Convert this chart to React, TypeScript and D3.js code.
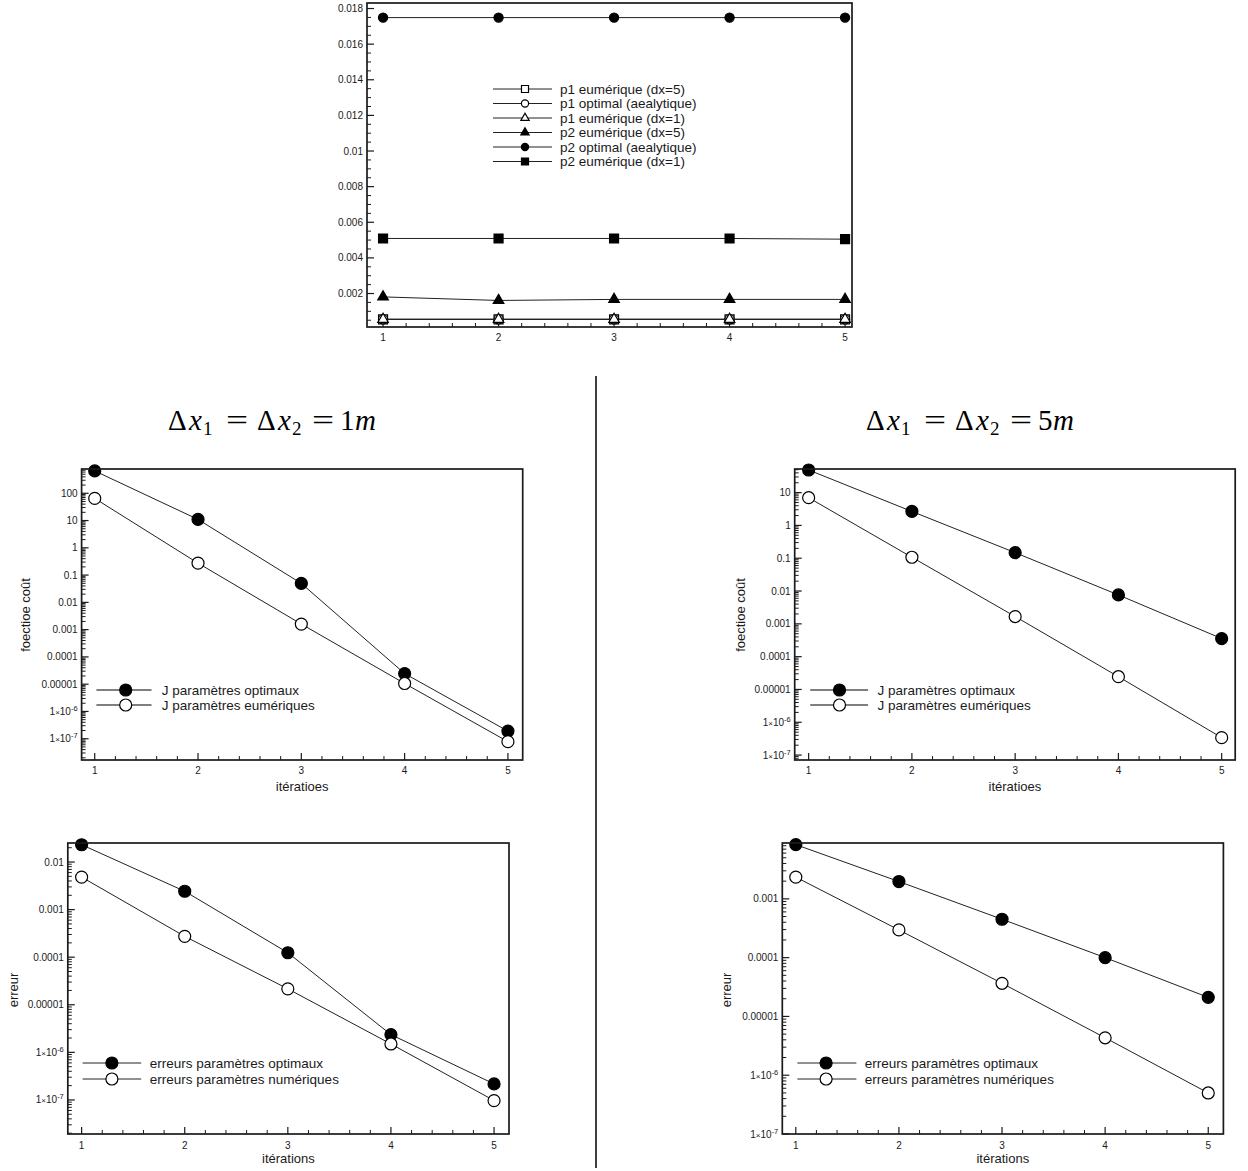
import React from 'react';
import * as d3 from 'd3';

// ---------------- DATA ----------------
const iterations = [1, 2, 3, 4, 5];

// top chart (parameters p1 / p2)
const p1NumDx5 = [0.00055, 0.00055, 0.00055, 0.00055, 0.00055];
const p1Optimal = [0.00055, 0.00055, 0.00055, 0.00055, 0.00055];
const p1NumDx1 = [0.00055, 0.00055, 0.00055, 0.00055, 0.00055];
const p2NumDx5 = [0.00181, 0.00161, 0.00167, 0.00167, 0.00167];
const p2Optimal = [0.01749, 0.01749, 0.01749, 0.01749, 0.01749];
const p2NumDx1 = [0.00509, 0.00509, 0.00509, 0.00509, 0.00505];
const topLegendLabels = [
  'p1 eumérique (dx=5)',
  'p1 optimal (aealytique)',
  'p1 eumérique (dx=1)',
  'p2 eumérique (dx=5)',
  'p2 optimal (aealytique)',
  'p2 eumérique (dx=1)',
];
const topYTicks = [0.002, 0.004, 0.006, 0.008, 0.01, 0.012, 0.014, 0.016, 0.018];
const topYTickLabels = ['0.002', '0.004', '0.006', '0.008', '0.01', '0.012', '0.014', '0.016', '0.018'];

// cost function, dx = 1m
const costDx1Optimal = [660, 11, 0.0495, 2.45e-5, 1.9e-7];
const costDx1Numeric = [65, 0.274, 0.0016, 1.06e-5, 7.8e-8];
// cost function, dx = 5m
const costDx5Optimal = [49, 2.67, 0.148, 0.0076, 3.56e-4];
const costDx5Numeric = [7.0, 0.107, 0.00167, 2.45e-5, 3.4e-7];
// errors, dx = 1m
const errDx1Optimal = [0.0231, 0.00243, 1.24e-4, 2.36e-6, 2.17e-7];
const errDx1Numeric = [0.00483, 2.74e-4, 2.16e-5, 1.5e-6, 9.7e-8];
// errors, dx = 5m
const errDx5Optimal = [0.00836, 0.00197, 4.5e-4, 1.0e-4, 2.11e-5];
const errDx5Numeric = [0.00234, 2.96e-4, 3.66e-5, 4.33e-6, 4.99e-7];

const costLegendLabels = ['J paramètres optimaux', 'J paramètres eumériques'];
const errLegendLabels = ['erreurs paramètres optimaux', 'erreurs paramètres numériques'];
const costYLabel = 'foectioe coût';
const costXLabel = 'itératioes';
const errYLabel = 'erreur';
const errXLabel = 'itérations';

const costTicksDx1 = [1e-7, 1e-6, 1e-5, 1e-4, 1e-3, 1e-2, 0.1, 1, 10, 100];
const costTicksDx5 = [1e-7, 1e-6, 1e-5, 1e-4, 1e-3, 1e-2, 0.1, 1, 10];
const errTicksDx1 = [1e-7, 1e-6, 1e-5, 1e-4, 1e-3, 1e-2];
const errTicksDx5 = [1e-7, 1e-6, 1e-5, 1e-4, 1e-3];

const titleValues = ['1', '5'];

// ---------------- HELPERS ----------------
const FONT = "'Liberation Sans', Arial, Helvetica, sans-serif";
const INK = '#1a1a1a';

type Marker = 'circle' | 'square' | 'triangle';
interface Series { values: number[]; marker: Marker; filled: boolean; label: string; }
interface PanelCfg {
  left: number; right: number; top: number; bottom: number;
  xDomain: [number, number];
  yDomain: [number, number];
  log: boolean;
  yTicks: number[];
  yTickLabels?: string[];
  yMinorStep?: number;
  series: Series[];
  markerSize: number;
  legend: { x0: number; x1: number; xm: number; xt: number; y0: number; dy: number; size: number; stroke: string; width: number; fontSize: number };
  xLabel?: { text: string; y: number };
  yLabel?: { text: string; x: number; y: number };
  xTickLabelY: number;
}

function logLabel(v: number, x: number, y: number, key: string) {
  const e = Math.round(Math.log10(v));
  if (e >= -5) {
    const s = e >= 0 ? String(Math.round(v)) : '0.' + '0'.repeat(-e - 1) + '1';
    return (
      <text key={key} x={x} y={y} dy="0.35em" textAnchor="end" fontSize={10} fontFamily={FONT} fill={INK}>{s}</text>
    );
  }
  return (
    <text key={key} x={x} y={y} dy="0.35em" textAnchor="end" fontSize={10} fontFamily={FONT} fill={INK}>
      1<tspan fontSize={8}>×</tspan>10<tspan fontSize={7.5} dy={-4}>{String(e)}</tspan>
    </text>
  );
}

function MarkerShape({ type, filled, cx, cy, r }: { type: Marker; filled: boolean; cx: number; cy: number; r: number }) {
  const fill = filled ? '#000' : '#fff';
  if (type === 'circle') {
    return <circle cx={cx} cy={cy} r={r} fill={fill} stroke="#000" strokeWidth={1.2} />;
  }
  const sym = type === 'square' ? d3.symbolSquare : d3.symbolTriangle;
  const area = type === 'square' ? (2 * r) * (2 * r) * 0.95 : Math.sqrt(3) / 4 * Math.pow(2.3 * r, 2);
  const path = d3.symbol().type(sym).size(area)() as string;
  return <path d={path} transform={`translate(${cx},${cy})`} fill={fill} stroke="#000" strokeWidth={1.2} />;
}

function Panel({ cfg }: { cfg: PanelCfg }) {
  const { left, right, top, bottom } = cfg;
  const x = d3.scaleLinear().domain(cfg.xDomain).range([left, right]);
  const y = cfg.log
    ? d3.scaleLog().domain(cfg.yDomain).range([bottom, top])
    : d3.scaleLinear().domain(cfg.yDomain).range([bottom, top]);

  const yMinor: number[] = [];
  if (cfg.log) {
    const e0 = Math.floor(Math.log10(cfg.yDomain[0]));
    const e1 = Math.ceil(Math.log10(cfg.yDomain[1]));
    for (let e = e0; e <= e1; e++) {
      for (let k = 2; k <= 9; k++) {
        const v = k * Math.pow(10, e);
        if (v > cfg.yDomain[0] && v < cfg.yDomain[1]) yMinor.push(v);
      }
    }
  } else if (cfg.yMinorStep) {
    const st = cfg.yMinorStep;
    for (let v = Math.ceil(cfg.yDomain[0] / st) * st; v < cfg.yDomain[1]; v += st) {
      const isMajor = cfg.yTicks.some((t) => Math.abs(t - v) < st / 10);
      if (!isMajor) yMinor.push(v);
    }
  }
  const xMinor: number[] = [];
  for (let i = 0; i < 40; i++) {
    const v = Math.ceil(cfg.xDomain[0] * 5) / 5 + i * 0.2;
    if (v >= cfg.xDomain[1]) break;
    if (Math.abs(v - Math.round(v)) > 0.01) xMinor.push(v);
  }

  const line = d3.line<number>()
    .x((_, i) => x(iterations[i]))
    .y((d) => y(d));

  const lg = cfg.legend;

  return (
    <g>
      {cfg.yTicks.map((t, i) => (
        <line key={'yt' + i} x1={left} x2={left + 7} y1={y(t)} y2={y(t)} stroke={INK} strokeWidth={1.2} />
      ))}
      {yMinor.map((t, i) => (
        <line key={'ym' + i} x1={left} x2={left + 4} y1={y(t)} y2={y(t)} stroke={INK} strokeWidth={1} />
      ))}
      {iterations.map((t, i) => (
        <line key={'xt' + i} x1={x(t)} x2={x(t)} y1={bottom} y2={bottom - 7} stroke={INK} strokeWidth={1.2} />
      ))}
      {xMinor.map((t, i) => (
        <line key={'xm' + i} x1={x(t)} x2={x(t)} y1={bottom} y2={bottom - 4} stroke={INK} strokeWidth={1} />
      ))}
      {cfg.yTicks.map((t, i) =>
        cfg.log
          ? logLabel(t, left - 4, y(t), 'yl' + i)
          : (
            <text key={'yl' + i} x={left - 4} y={y(t)} dy="0.35em" textAnchor="end" fontSize={10} fontFamily={FONT} fill={INK}>
              {cfg.yTickLabels ? cfg.yTickLabels[i] : String(t)}
            </text>
          )
      )}
      {iterations.map((t, i) => (
        <text key={'xl' + i} x={x(t)} y={cfg.xTickLabelY} textAnchor="middle" fontSize={10} fontFamily={FONT} fill={INK}>{t}</text>
      ))}
      {cfg.series.map((s, si) => (
        <g key={'s' + si}>
          <path d={line(s.values) as string} fill="none" stroke="#222" strokeWidth={1} />
          {s.values.map((v, i) => (
            <MarkerShape key={i} type={s.marker} filled={s.filled} cx={x(iterations[i])} cy={y(v)} r={cfg.markerSize} />
          ))}
        </g>
      ))}
      <rect x={left} y={top} width={right - left} height={bottom - top} fill="none" stroke={INK} strokeWidth={1.7} />
      {cfg.series.map((s, i) => {
        const yy = lg.y0 + i * lg.dy;
        return (
          <g key={'lg' + i}>
            <line x1={lg.x0} x2={lg.x1} y1={yy} y2={yy} stroke={lg.stroke} strokeWidth={lg.width} />
            <MarkerShape type={s.marker} filled={s.filled} cx={lg.xm} cy={yy} r={lg.size} />
            <text x={lg.xt} y={yy} dy="0.35em" fontSize={lg.fontSize} fontFamily={FONT} fill={INK}>{s.label}</text>
          </g>
        );
      })}
      {cfg.xLabel && (
        <text x={(left + right) / 2} y={cfg.xLabel.y} textAnchor="middle" fontSize={13} fontFamily={FONT} fill={INK}>{cfg.xLabel.text}</text>
      )}
      {cfg.yLabel && (
        <text transform={`translate(${cfg.yLabel.x},${cfg.yLabel.y}) rotate(-90)`} textAnchor="middle" fontSize={13} fontFamily={FONT} fill={INK}>{cfg.yLabel.text}</text>
      )}
    </g>
  );
}

// LaTeX-like title: Δx1 = Δx2 = Nm, laid out piece by piece
function Title({ left, y, value }: { left: number; y: number; value: string }) {
  const serif = "'Liberation Serif', serif";
  const fs = 29;
  const sub = 19;
  return (
    <g fontFamily={serif} fill="#000">
      <text x={left} y={y} fontSize={fs}>Δ</text>
      <text x={left + 21} y={y} fontSize={fs} fontStyle="italic">x</text>
      <text x={left + 35} y={y + 5} fontSize={sub}>1</text>
      <text transform={`translate(${left + 69},${y}) scale(1.35,1)`} fontSize={fs} textAnchor="middle">=</text>
      <text x={left + 89} y={y} fontSize={fs}>Δ</text>
      <text x={left + 110} y={y} fontSize={fs} fontStyle="italic">x</text>
      <text x={left + 124} y={y + 5} fontSize={sub}>2</text>
      <text transform={`translate(${left + 155},${y}) scale(1.35,1)`} fontSize={fs} textAnchor="middle">=</text>
      <text x={left + 172} y={y} fontSize={fs}>{value}</text>
      <text x={left + 187} y={y} fontSize={fs} fontStyle="italic">m</text>
    </g>
  );
}

export default function App() {
  const topCfg: PanelCfg = {
    left: 367, right: 852, top: 3, bottom: 327,
    xDomain: [0.861, 5.06],
    yDomain: [0.00012, 0.01831],
    log: false,
    yTicks: topYTicks,
    yTickLabels: topYTickLabels,
    yMinorStep: 0.0005,
    series: [
      { values: p1NumDx5, marker: 'square', filled: false, label: topLegendLabels[0] },
      { values: p1Optimal, marker: 'circle', filled: false, label: topLegendLabels[1] },
      { values: p1NumDx1, marker: 'triangle', filled: false, label: topLegendLabels[2] },
      { values: p2NumDx5, marker: 'triangle', filled: true, label: topLegendLabels[3] },
      { values: p2Optimal, marker: 'circle', filled: true, label: topLegendLabels[4] },
      { values: p2NumDx1, marker: 'square', filled: true, label: topLegendLabels[5] },
    ],
    markerSize: 4.6,
    legend: { x0: 493, x1: 552, xm: 525, xt: 560, y0: 89, dy: 14.5, size: 3.6, stroke: '#222', width: 1, fontSize: 13.5 },
    xTickLabelY: 341,
  };

  const costSeries = (opt: number[], num: number[]): Series[] => [
    { values: opt, marker: 'circle', filled: true, label: costLegendLabels[0] },
    { values: num, marker: 'circle', filled: false, label: costLegendLabels[1] },
  ];
  const errSeries = (opt: number[], num: number[]): Series[] => [
    { values: opt, marker: 'circle', filled: true, label: errLegendLabels[0] },
    { values: num, marker: 'circle', filled: false, label: errLegendLabels[1] },
  ];

  const midLeft: PanelCfg = {
    left: 81.6, right: 522.7, top: 469, bottom: 760,
    xDomain: [0.873, 5.143],
    yDomain: [Math.pow(10, -7.78), Math.pow(10, 2.89)],
    log: true,
    yTicks: costTicksDx1,
    series: costSeries(costDx1Optimal, costDx1Numeric),
    markerSize: 6,
    legend: { x0: 96.4, x1: 151.5, xm: 125.7, xt: 161.8, y0: 690, dy: 15, size: 6, stroke: '#555', width: 1.6, fontSize: 13.5 },
    xLabel: { text: costXLabel, y: 791 },
    yLabel: { text: costYLabel, x: 30, y: 615 },
    xTickLabelY: 774,
  };
  const midRight: PanelCfg = {
    left: 794.7, right: 1235.2, top: 469, bottom: 760,
    xDomain: [0.865, 5.131],
    yDomain: [Math.pow(10, -7.15), Math.pow(10, 1.72)],
    log: true,
    yTicks: costTicksDx5,
    series: costSeries(costDx5Optimal, costDx5Numeric),
    markerSize: 6,
    legend: { x0: 810.2, x1: 868.1, xm: 839.5, xt: 877.6, y0: 690, dy: 15, size: 6, stroke: '#555', width: 1.6, fontSize: 13.5 },
    xLabel: { text: costXLabel, y: 791 },
    yLabel: { text: costYLabel, x: 744.5, y: 615 },
    xTickLabelY: 774,
  };
  const botLeft: PanelCfg = {
    left: 67.8, right: 509, top: 843, bottom: 1134,
    xDomain: [0.866, 5.145],
    yDomain: [Math.pow(10, -7.716), Math.pow(10, -1.6)],
    log: true,
    yTicks: errTicksDx1,
    series: errSeries(errDx1Optimal, errDx1Numeric),
    markerSize: 6,
    legend: { x0: 82.6, x1: 141.2, xm: 111.9, xt: 149.8, y0: 1063, dy: 16, size: 6, stroke: '#222', width: 1, fontSize: 13.5 },
    xLabel: { text: errXLabel, y: 1163 },
    yLabel: { text: errYLabel, x: 18, y: 990 },
    xTickLabelY: 1149,
  };
  const botRight: PanelCfg = {
    left: 782.3, right: 1223.4, top: 843, bottom: 1134,
    xDomain: [0.869, 5.147],
    yDomain: [Math.pow(10, -7), Math.pow(10, -2.05)],
    log: true,
    yTicks: errTicksDx5,
    series: errSeries(errDx5Optimal, errDx5Numeric),
    markerSize: 6,
    legend: { x0: 797.4, x1: 856.4, xm: 826.1, xt: 864.8, y0: 1063, dy: 16, size: 6, stroke: '#222', width: 1, fontSize: 13.5 },
    xLabel: { text: errXLabel, y: 1163 },
    yLabel: { text: errYLabel, x: 731, y: 990 },
    xTickLabelY: 1149,
  };

  return (
    <svg width={1248} height={1171} style={{ position: 'absolute', left: 0, top: 0, background: '#fff' }}>
      <rect x={0} y={0} width={1248} height={1171} fill="#fff" />
      <Panel cfg={topCfg} />
      <line x1={596} x2={596} y1={376} y2={1168} stroke="#000" strokeWidth={1.5} />
      <Title left={168} y={430} value={titleValues[0]} />
      <Title left={866} y={430} value={titleValues[1]} />
      <Panel cfg={midLeft} />
      <Panel cfg={midRight} />
      <Panel cfg={botLeft} />
      <Panel cfg={botRight} />
    </svg>
  );
}
